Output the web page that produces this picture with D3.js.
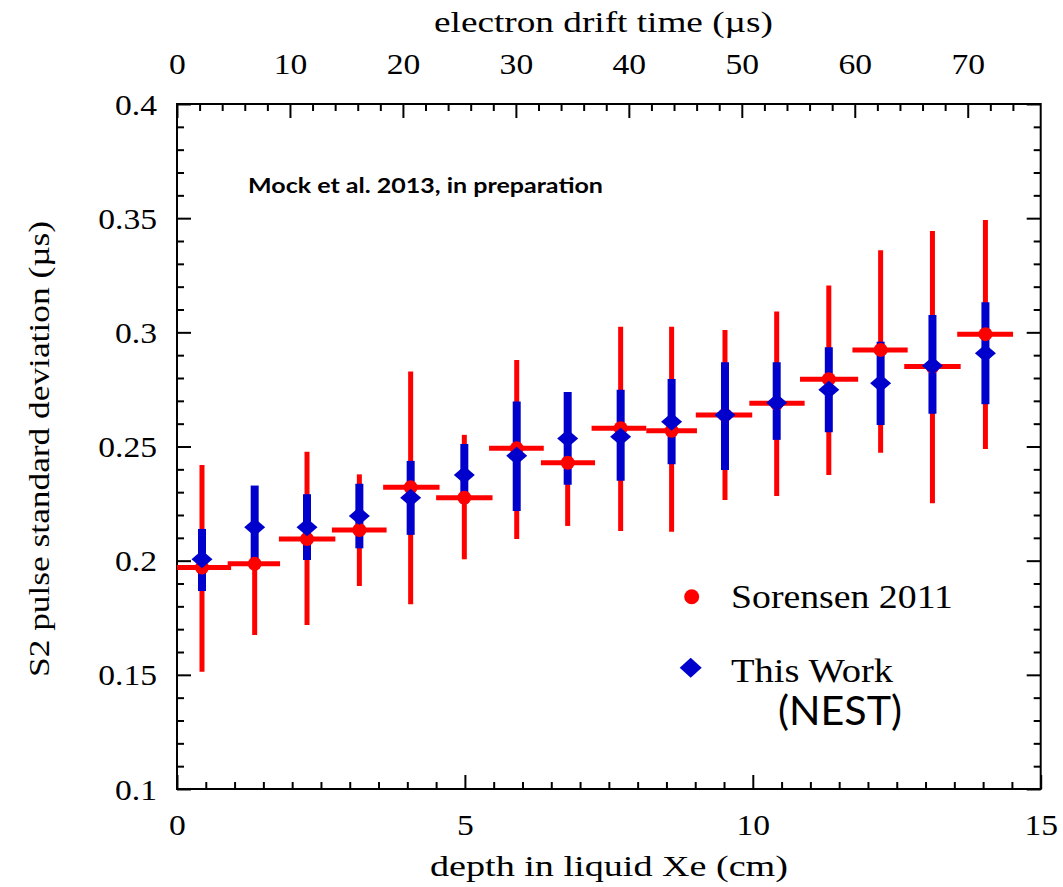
<!DOCTYPE html>
<html><head><meta charset="utf-8">
<script src="https://cdn.jsdelivr.net/npm/d3@7"></script>
<style>body{margin:0;background:#fff}svg{display:block}</style>
</head><body>
<svg id="chart" width="1063" height="887"></svg>
<script>
// ---- data ----
const depth      = [0.434, 1.349, 2.258, 3.167, 4.058, 4.99, 5.90, 6.785, 7.705, 8.59, 9.517, 10.415, 11.32, 12.22, 13.12, 14.04];
const binLo      = [0.00, 0.88, 1.77, 2.69, 3.58, 4.50, 5.42, 6.32, 7.20, 8.15, 9.01, 9.94, 10.82, 11.73, 12.63, 13.55];
const binHi      = [0.94, 1.79, 2.75, 3.64, 4.56, 5.48, 6.37, 7.26, 8.15, 9.03, 9.99, 10.90, 11.83, 12.69, 13.61, 14.52];
const sorensen   = [0.1970, 0.1986, 0.2095, 0.2134, 0.2321, 0.2276, 0.2492, 0.2429, 0.2580, 0.2569, 0.2638, 0.2689, 0.2795, 0.2923, 0.2850, 0.2992];
const sorensenLo = [0.1514, 0.1675, 0.1718, 0.1889, 0.1809, 0.2006, 0.2095, 0.2152, 0.2130, 0.2127, 0.2266, 0.2283, 0.2375, 0.2473, 0.2251, 0.2489];
const sorensenHi = [0.2419, 0.2296, 0.2477, 0.2378, 0.2828, 0.2551, 0.2879, 0.2706, 0.3025, 0.3025, 0.3010, 0.3091, 0.3205, 0.3360, 0.3444, 0.3492];
const nest       = [0.2006, 0.2146, 0.2146, 0.2196, 0.2276, 0.2375, 0.2459, 0.2535, 0.2543, 0.2608, 0.2638, 0.2692, 0.2748, 0.2777, 0.2854, 0.2908];
const nestLo     = [0.1867, 0.1975, 0.2003, 0.2054, 0.2113, 0.2250, 0.2218, 0.2332, 0.2350, 0.2422, 0.2397, 0.2529, 0.2562, 0.2594, 0.2643, 0.2685];
const nestHi     = [0.2139, 0.2329, 0.2291, 0.2337, 0.2437, 0.2511, 0.2697, 0.2739, 0.2748, 0.2796, 0.2869, 0.2869, 0.2935, 0.2959, 0.3076, 0.3132];

const depthTicks  = [0, 5, 10, 15];
const driftTicks  = [0, 10, 20, 30, 40, 50, 60, 70];
const yTicks      = [0.1, 0.15, 0.2, 0.25, 0.3, 0.35, 0.4];
const yTickLabels = ["0.1", "0.15", "0.2", "0.25", "0.3", "0.35", "0.4"];
const driftMax = 76.46;   // µs at 15 cm
const seriesNames = ["Sorensen 2011", "This Work"];

// ---- layout ----
const L = 177, R = 1040.7, T = 104, B = 789;
const RED = "#ff0000", BLUE = "#0000cc";
const SERIF = "'Liberation Serif','Times New Roman',serif";

const svg = d3.select("#chart");
const x  = d3.scaleLinear().domain([0, 15]).range([L, R]);
const xt = d3.scaleLinear().domain([0, driftMax]).range([L, R]);
const y  = d3.scaleLinear().domain([0.1, 0.4]).range([B, T]);

const depthMinor = d3.range(0, 15.001, 0.5).filter(v => !depthTicks.includes(v));
const driftMinor = d3.range(0, 76, 2).filter(v => v % 10 !== 0);
const yMinor = d3.range(0.1, 0.4001, 0.01).filter(v => Math.abs(Math.round(v * 20) - v * 20) > 1e-6);

function styleAxis(g) {
  g.select(".domain").remove();
  g.selectAll(".tick line").attr("stroke", "#000").attr("stroke-width", 2);
}
function styleText(g, yPos, xPos, anchor) {
  g.selectAll(".tick text")
    .attr("font-family", SERIF).attr("font-size", 30).attr("fill", "#000")
    .attr("dy", 0).attr("y", yPos).attr("x", xPos / 1.12)
    .attr("text-anchor", anchor)
    .attr("transform", "scale(1.12,1)");
}

// bottom axis
svg.append("g").attr("transform", `translate(0,${B})`)
  .call(d3.axisBottom(x).tickValues(depthMinor).tickSize(-7).tickFormat(""))
  .call(styleAxis);
svg.append("g").attr("transform", `translate(0,${B})`)
  .call(d3.axisBottom(x).tickValues(depthTicks).tickSize(-14).tickFormat(d3.format("d")))
  .call(styleAxis).call(g => styleText(g, 46, 0, "middle"));

// top axis
svg.append("g").attr("transform", `translate(0,${T})`)
  .call(d3.axisTop(xt).tickValues(driftMinor).tickSize(-7).tickFormat(""))
  .call(styleAxis);
svg.append("g").attr("transform", `translate(0,${T})`)
  .call(d3.axisTop(xt).tickValues(driftTicks).tickSize(-14).tickFormat(d3.format("d")))
  .call(styleAxis).call(g => styleText(g, -30, 0, "middle"));

// left axis
svg.append("g").attr("transform", `translate(${L},0)`)
  .call(d3.axisLeft(y).tickValues(yMinor).tickSize(-7).tickFormat(""))
  .call(styleAxis);
svg.append("g").attr("transform", `translate(${L},0)`)
  .call(d3.axisLeft(y).tickValues(yTicks).tickSize(-14).tickFormat((d, i) => yTickLabels[i]))
  .call(styleAxis).call(g => styleText(g, 10, -20, "end"));

// right axis
svg.append("g").attr("transform", `translate(${R},0)`)
  .call(d3.axisRight(y).tickValues(yMinor).tickSize(-7).tickFormat(""))
  .call(styleAxis);
svg.append("g").attr("transform", `translate(${R},0)`)
  .call(d3.axisRight(y).tickValues(yTicks).tickSize(-14).tickFormat(""))
  .call(styleAxis);

// frame
svg.append("rect").attr("x", L).attr("y", T).attr("width", R - L).attr("height", B - T)
  .attr("fill", "none").attr("stroke", "#000").attr("stroke-width", 2);

// ---- data marks ----
const idx = d3.range(depth.length);
const marks = svg.append("g");
// red vertical error bars
marks.selectAll(".rv").data(idx).join("line")
  .attr("x1", i => x(depth[i])).attr("x2", i => x(depth[i]))
  .attr("y1", i => y(sorensenLo[i])).attr("y2", i => y(sorensenHi[i]))
  .attr("stroke", RED).attr("stroke-width", 5);
// blue vertical error bars
marks.selectAll(".bv").data(idx).join("line")
  .attr("x1", i => x(depth[i])).attr("x2", i => x(depth[i]))
  .attr("y1", i => y(nestLo[i])).attr("y2", i => y(nestHi[i]))
  .attr("stroke", BLUE).attr("stroke-width", 8);
// red horizontal bars
marks.selectAll(".rh").data(idx).join("line")
  .attr("x1", i => x(binLo[i])).attr("x2", i => x(binHi[i]))
  .attr("y1", i => y(sorensen[i])).attr("y2", i => y(sorensen[i]))
  .attr("stroke", RED).attr("stroke-width", 5);
// red points
marks.selectAll(".rp").data(idx).join("circle")
  .attr("cx", i => x(depth[i])).attr("cy", i => y(sorensen[i])).attr("r", 7)
  .attr("fill", RED);
// blue diamonds
function diamond(cx, cy, hw, hh) {
  return `M${cx - hw},${cy}L${cx},${cy - hh}L${cx + hw},${cy}L${cx},${cy + hh}Z`;
}
marks.selectAll(".bd").data(idx).join("path")
  .attr("d", i => diamond(x(depth[i]), y(nest[i]), 10.5, 9))
  .attr("fill", BLUE);

// ---- legend ----
svg.append("circle").attr("cx", 691.7).attr("cy", 596.7).attr("r", 7.5).attr("fill", RED);
svg.append("path").attr("d", diamond(690.7, 667.7, 11, 10)).attr("fill", BLUE);
svg.append("text").attr("x", 731).attr("y", 608).text(seriesNames[0])
  .attr("font-family", SERIF).attr("font-size", 34).attr("fill", "#000")
  .attr("textLength", 222).attr("lengthAdjust", "spacingAndGlyphs");
svg.append("text").attr("x", 731).attr("y", 682).text(seriesNames[1])
  .attr("font-family", SERIF).attr("font-size", 34).attr("fill", "#000")
  .attr("textLength", 162).attr("lengthAdjust", "spacingAndGlyphs");
svg.append("text").attr("x", 778).attr("y", 725).text("(NEST)")
  .attr("font-family", "Lato, 'Open Sans', sans-serif").attr("font-size", 40).attr("fill", "#000")
  .attr("textLength", 124).attr("lengthAdjust", "spacingAndGlyphs");

// annotation
svg.append("text").attr("x", 248).attr("y", 193).text("Mock et al. 2013, in preparation")
  .attr("font-family", "Lato, 'Open Sans', sans-serif").attr("font-weight", "bold")
  .attr("font-size", 21).attr("fill", "#000")
  .attr("textLength", 355).attr("lengthAdjust", "spacingAndGlyphs");

// axis titles
svg.append("text").attr("x", 603.5).attr("y", 32).attr("text-anchor", "middle")
  .text("electron drift time (µs)")
  .attr("font-family", SERIF).attr("font-size", 30).attr("fill", "#000")
  .attr("textLength", 339).attr("lengthAdjust", "spacingAndGlyphs");
svg.append("text").attr("x", 609).attr("y", 876).attr("text-anchor", "middle")
  .text("depth in liquid Xe (cm)")
  .attr("font-family", SERIF).attr("font-size", 30).attr("fill", "#000")
  .attr("textLength", 358).attr("lengthAdjust", "spacingAndGlyphs");
svg.append("text").attr("transform", "translate(49,449) rotate(-90)").attr("text-anchor", "middle")
  .text("S2 pulse standard deviation (µs)")
  .attr("font-family", SERIF).attr("font-size", 30).attr("fill", "#000")
  .attr("textLength", 456).attr("lengthAdjust", "spacingAndGlyphs");
</script>
</body></html>
